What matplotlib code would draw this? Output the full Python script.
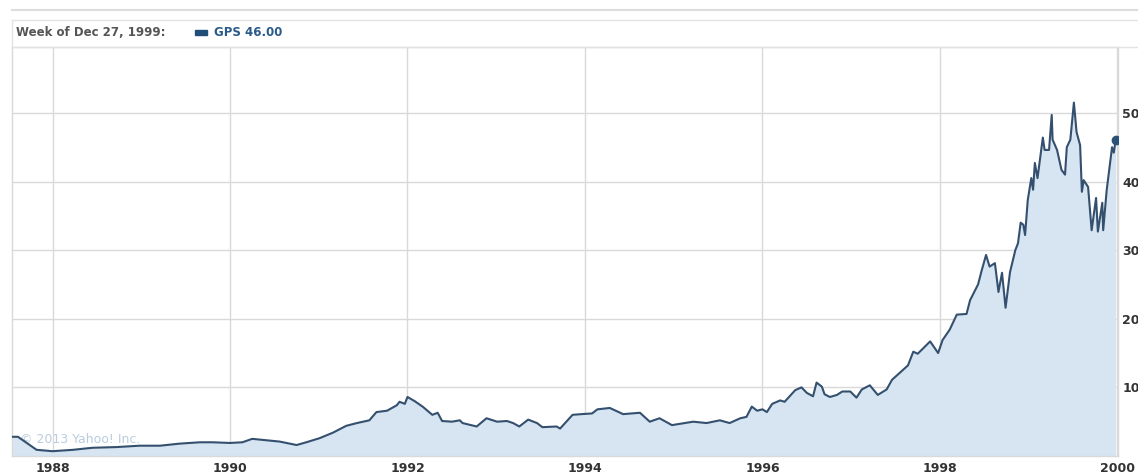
import matplotlib
matplotlib.use("Agg")
import matplotlib.pyplot as plt
from matplotlib.lines import Line2D
from matplotlib.patches import Rectangle

# weekly close of GPS (decimal year, price)
dates = [
    1987.55, 1987.61, 1987.71, 1987.82, 1988.00, 1988.23, 1988.45, 1988.72, 1988.98, 1989.21,
    1989.43, 1989.66, 1989.80, 1990.00, 1990.14, 1990.25, 1990.41, 1990.56, 1990.75, 1990.86,
    1991.01, 1991.16, 1991.31, 1991.43, 1991.57, 1991.65, 1991.77, 1991.88, 1991.91, 1991.97,
    1992.00, 1992.08, 1992.17, 1992.28, 1992.34, 1992.39, 1992.50, 1992.59, 1992.62, 1992.78,
    1992.89, 1993.01, 1993.12, 1993.19, 1993.26, 1993.36, 1993.46, 1993.52, 1993.68, 1993.72,
    1993.79, 1993.86, 1993.96, 1994.08, 1994.14, 1994.28, 1994.43, 1994.62, 1994.73, 1994.84,
    1994.98, 1995.22, 1995.37, 1995.52, 1995.63, 1995.75, 1995.82, 1995.88, 1995.94, 1996.00,
    1996.05, 1996.11, 1996.20, 1996.25, 1996.37, 1996.44, 1996.50, 1996.57, 1996.61, 1996.67,
    1996.70, 1996.76, 1996.84, 1996.90, 1996.99, 1997.06, 1997.12, 1997.21, 1997.30, 1997.40,
    1997.46, 1997.58, 1997.64, 1997.70, 1997.75, 1997.89, 1997.98, 1998.03, 1998.11, 1998.19,
    1998.30, 1998.34, 1998.43, 1998.47, 1998.52, 1998.56, 1998.62, 1998.66, 1998.70, 1998.74,
    1998.79, 1998.85, 1998.88, 1998.91, 1998.94, 1998.96, 1998.99, 1999.03, 1999.05, 1999.07,
    1999.10, 1999.16, 1999.18, 1999.23, 1999.26, 1999.27, 1999.32, 1999.37, 1999.41, 1999.43,
    1999.47, 1999.51, 1999.54, 1999.58, 1999.60, 1999.62, 1999.67, 1999.71, 1999.76, 1999.78,
    1999.83, 1999.84, 1999.88, 1999.94, 1999.96, 1999.98,
]
prices = [
    2.8, 2.8, 1.9, 0.9, 0.7, 0.9, 1.2, 1.3, 1.5, 1.5,
    1.8, 2.0, 2.0, 1.9, 2.0, 2.5, 2.3, 2.1, 1.6, 2.0,
    2.6, 3.4, 4.4, 4.8, 5.2, 6.4, 6.6, 7.4, 7.9, 7.6,
    8.6, 8.0, 7.2, 6.0, 6.3, 5.1, 5.0, 5.2, 4.8, 4.3,
    5.5, 5.0, 5.1, 4.8, 4.3, 5.3, 4.8, 4.2, 4.3, 4.0,
    5.0, 6.0, 6.1, 6.2, 6.8, 7.0, 6.1, 6.3, 5.0, 5.5,
    4.5, 5.0, 4.8, 5.2, 4.8, 5.5, 5.7, 7.2, 6.6, 6.8,
    6.4, 7.6, 8.1, 7.9, 9.6, 10.0, 9.2, 8.7, 10.7, 10.1,
    9.0, 8.6, 8.9, 9.4, 9.4, 8.5, 9.7, 10.3, 8.9, 9.7,
    11.1, 12.5, 13.2, 15.2, 14.9, 16.7, 15.0, 16.9, 18.4, 20.6,
    20.7, 22.7, 25.0, 27.0, 29.3, 27.6, 28.1, 23.9, 26.7, 21.6,
    26.8, 30.0, 31.0, 34.0, 33.7, 32.2, 37.3, 40.5, 38.8, 42.7,
    40.5, 46.4, 44.6, 44.6, 49.7, 46.1, 44.6, 41.7, 41.0, 45.0,
    46.1, 51.5, 47.2, 45.3, 38.5, 40.2, 39.2, 32.9, 37.6, 32.7,
    36.9, 32.9, 38.8, 45.0, 44.2, 46.0,
]
year_ticks = [1988, 1990, 1992, 1994, 1996, 1998, 2000]
price_ticks = [10, 20, 30, 40, 50]
header_date = "Week of Dec 27, 1999:"
header_series = "GPS 46.00"

W, H = 1138, 475
line_col = "#34506e"
fill_col = "#d6e5f1"
grid_col = "#d9d9d9"

fig = plt.figure(figsize=(W / 100, H / 100), dpi=100)
ax = fig.add_axes([12 / W, (H - 456) / H, (1118 - 12) / W, (456 - 47) / H])

ax.fill_between(dates, prices, 0, color=fill_col, lw=0, zorder=1)
ax.plot(dates, prices, color=line_col, lw=1.5, zorder=3)
ax.plot(dates[-1], prices[-1], "o", ms=6, color="#2a5279", zorder=4)

ax.set_xlim(1987.543, 2000.007)
ax.set_ylim(0, 59.6)
ax.set_xticks(year_ticks)
ax.set_xticklabels([str(y) for y in year_ticks], fontsize=9, fontweight="bold", color="#333333")
ax.set_yticks(price_ticks)
ax.yaxis.tick_right()
ax.set_yticklabels([str(p) for p in price_ticks], fontsize=9, fontweight="bold", color="#333333")
ax.tick_params(length=0, pad=4)
ax.tick_params(axis="y", pad=3)
ax.grid(True, color=grid_col, lw=1, zorder=0)
ax.set_axisbelow(True)
for s in ax.spines.values():
    s.set_color(grid_col)
    s.set_linewidth(1)

ax.text(1987.63, 2.4, "\u00a9 2013 Yahoo! Inc.", fontsize=9, color="#a9c0d6",
        alpha=0.8, zorder=2, va="center")

# header strip above the plot
def fy(px):
    return 1 - px / H

fig.add_artist(Line2D([12 / W, 1], [fy(10), fy(10)], color="#dddddd", lw=1.5))
fig.add_artist(Line2D([12 / W, 1], [fy(19.5), fy(19.5)], color="#e3e3e3", lw=1))
fig.add_artist(Line2D([12 / W, 1], [fy(46.5), fy(46.5)], color="#e3e3e3", lw=1))
fig.add_artist(Line2D([12 / W, 12 / W], [fy(46.5), fy(19.5)], color="#e3e3e3", lw=1))
fig.text(16 / W, fy(33), header_date, fontsize=8.5, fontweight="bold", color="#555555", va="center")
fig.add_artist(Rectangle((195 / W, fy(35)), 12 / W, 5 / H, color="#1f4e79"))
fig.text(214 / W, fy(33), header_series, fontsize=8.5, fontweight="bold", color="#2a5a8a", va="center")

fig.savefig("out.png", dpi=100)
